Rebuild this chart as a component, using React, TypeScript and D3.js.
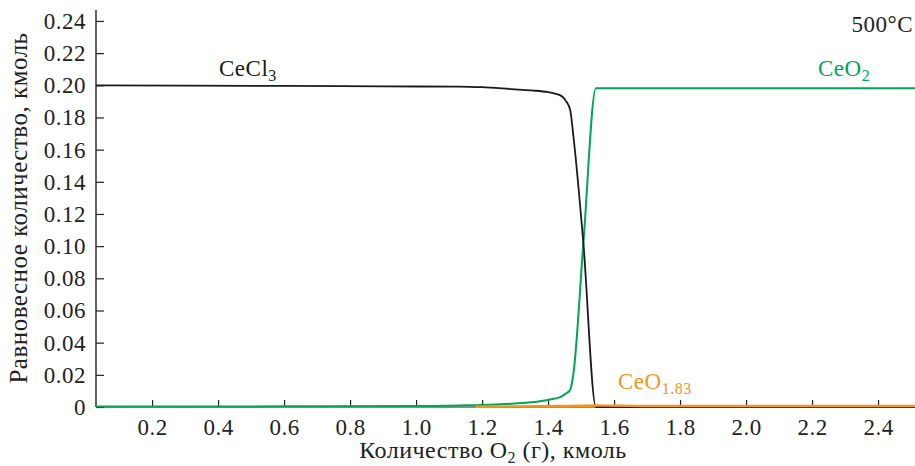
import { useEffect, useRef } from 'react';
import * as d3 from 'd3';

// Количество O2 (кмоль) and equilibrium amounts (кмоль)
const cecl3X = [0.03, 0.3, 0.6, 0.9, 1.13, 1.2, 1.29, 1.35, 1.4, 1.44, 1.455, 1.467, 1.477, 1.507, 1.545, 1.6, 2.0, 2.52];
const cecl3Y = [0.2, 0.1998, 0.1996, 0.1993, 0.1992, 0.1988, 0.1976, 0.1968, 0.1957, 0.1934, 0.19, 0.1847, 0.168, 0.1018, 0, 0, 0, 0];

const ceo2X = [0.03, 0.6, 1.0, 1.13, 1.2, 1.3, 1.35, 1.4, 1.44, 1.455, 1.467, 1.477, 1.507, 1.545, 2.52];
const ceo2Y = [0.0003, 0.0004, 0.0006, 0.001, 0.0012, 0.0022, 0.003, 0.0044, 0.0064, 0.0085, 0.0106, 0.021, 0.1018, 0.1982, 0.1982];

const ceo183X = [1.18, 1.3, 1.45, 1.55, 1.62, 1.7, 2.0, 2.52];
const ceo183Y = [0.0002, 0.0004, 0.0006, 0.0009, 0.0008, 0.0006, 0.0006, 0.0006];

const xTicks = [0.2, 0.4, 0.6, 0.8, 1.0, 1.2, 1.4, 1.6, 1.8, 2.0, 2.2, 2.4];
const yTicks = [0, 0.02, 0.04, 0.06, 0.08, 0.1, 0.12, 0.14, 0.16, 0.18, 0.2, 0.22, 0.24];

const FONT = 'Liberation Serif, Times New Roman, serif';
const FS = '23px';
const LS = '0.5px';

export default function App() {
  const svgRef = useRef<SVGSVGElement>(null);

  useEffect(() => {
    if (!svgRef.current) return;
    document.body.style.margin = '0';

    const W = 915;
    const H = 466;
    const left = 96;
    const right = 915;
    const bottom = 407;
    const top = 10;

    const svg = d3.select(svgRef.current).attr('width', W).attr('height', H);
    svg.selectAll('*').remove();

    const x = d3.scaleLinear().domain([0.03, 2.512]).range([left, right]);
    const y = d3.scaleLinear().domain([0, 0.2468]).range([bottom, top]);

    const line = d3.line<[number, number]>()
      .x(d => x(d[0]))
      .y(d => y(d[1]))
      .curve(d3.curveMonotoneX);

    const zip = (xs: number[], ys: number[]) => xs.map((v, i) => [v, ys[i]] as [number, number]);

    // X axis
    svg.append('g')
      .attr('transform', `translate(0, ${bottom})`)
      .call(
        d3.axisBottom(x)
          .tickValues(xTicks)
          .tickSize(-7)
          .tickPadding(12)
          .tickFormat(d3.format('.1f'))
      )
      .call(g => g.select('.domain').attr('stroke', '#666').attr('stroke-width', 1.5).attr('d', `M${left},0H${right}`))
      .call(g => g.selectAll('.tick line').attr('stroke', '#222').attr('stroke-width', 1.2))
      .selectAll('text')
      .attr('fill', '#222')
      .style('font-size', FS)
      .style('letter-spacing', LS)
      .style('font-family', FONT);

    // Y axis
    svg.append('g')
      .attr('transform', `translate(${left}, 0)`)
      .call(
        d3.axisLeft(y)
          .tickValues(yTicks)
          .tickSize(-8)
          .tickPadding(10)
          .tickFormat(d => (d === 0 ? '0' : d3.format('.2f')(d as number)))
      )
      .call(g => g.select('.domain').attr('stroke', '#222').attr('stroke-width', 1.4).attr('d', `M0,${top}V${bottom}`))
      .call(g => g.selectAll('.tick line').attr('stroke', '#222').attr('stroke-width', 1.2))
      .selectAll('text')
      .attr('fill', '#222')
      .style('font-size', FS)
      .style('letter-spacing', LS)
      .style('font-family', FONT);

    // lines
    svg.append('path')
      .attr('d', line(zip(ceo2X, ceo2Y)))
      .attr('fill', 'none')
      .attr('stroke', '#00a651')
      .attr('stroke-width', 2);

    svg.append('path')
      .attr('d', line(zip(cecl3X, cecl3Y)))
      .attr('fill', 'none')
      .attr('stroke', '#1a1a1a')
      .attr('stroke-width', 1.8);

    svg.append('path')
      .attr('d', line(zip(ceo183X, ceo183Y)))
      .attr('fill', 'none')
      .attr('stroke', '#f7941d')
      .attr('stroke-width', 2.4);

    // Axis titles
    const xt = svg.append('text')
      .attr('x', 493)
      .attr('y', 458)
      .attr('text-anchor', 'middle')
      .attr('fill', '#222')
      .style('font-size', '24px')
      .style('letter-spacing', LS)
      .style('font-family', FONT);
    xt.append('tspan').text('Количество O');
    xt.append('tspan').style('font-size', '16px').attr('dy', 5).text('2');
    xt.append('tspan').attr('dy', -5).text(' (г), кмоль');

    svg.append('text')
      .attr('transform', 'rotate(-90)')
      .attr('x', -208)
      .attr('y', 27)
      .attr('text-anchor', 'middle')
      .attr('fill', '#222')
      .style('font-size', '25px')
      .style('letter-spacing', LS)
      .style('font-family', FONT)
      .text('Равновесное количество, кмоль');

    // Labels
    const label = (px: number, py: number, main: string, sub: string, color: string) => {
      const t = svg.append('text')
        .attr('x', px)
        .attr('y', py)
        .attr('fill', color)
        .style('font-size', FS)
        .style('letter-spacing', LS)
        .style('font-family', FONT);
      t.append('tspan').text(main);
      t.append('tspan').style('font-size', '16px').attr('dy', 5).text(sub);
    };
    label(219, 76, 'CeCl', '3', '#1a1a1a');
    label(818, 76, 'CeO', '2', '#00a651');
    label(618, 389, 'CeO', '1.83', '#f7941d');

    svg.append('text')
      .attr('x', 913)
      .attr('y', 32)
      .attr('text-anchor', 'end')
      .attr('fill', '#222')
      .style('font-size', FS)
      .style('letter-spacing', LS)
      .style('font-family', FONT)
      .text('500°C');
  }, []);

  return <svg ref={svgRef} style={{ display: 'block' }}></svg>;
}
